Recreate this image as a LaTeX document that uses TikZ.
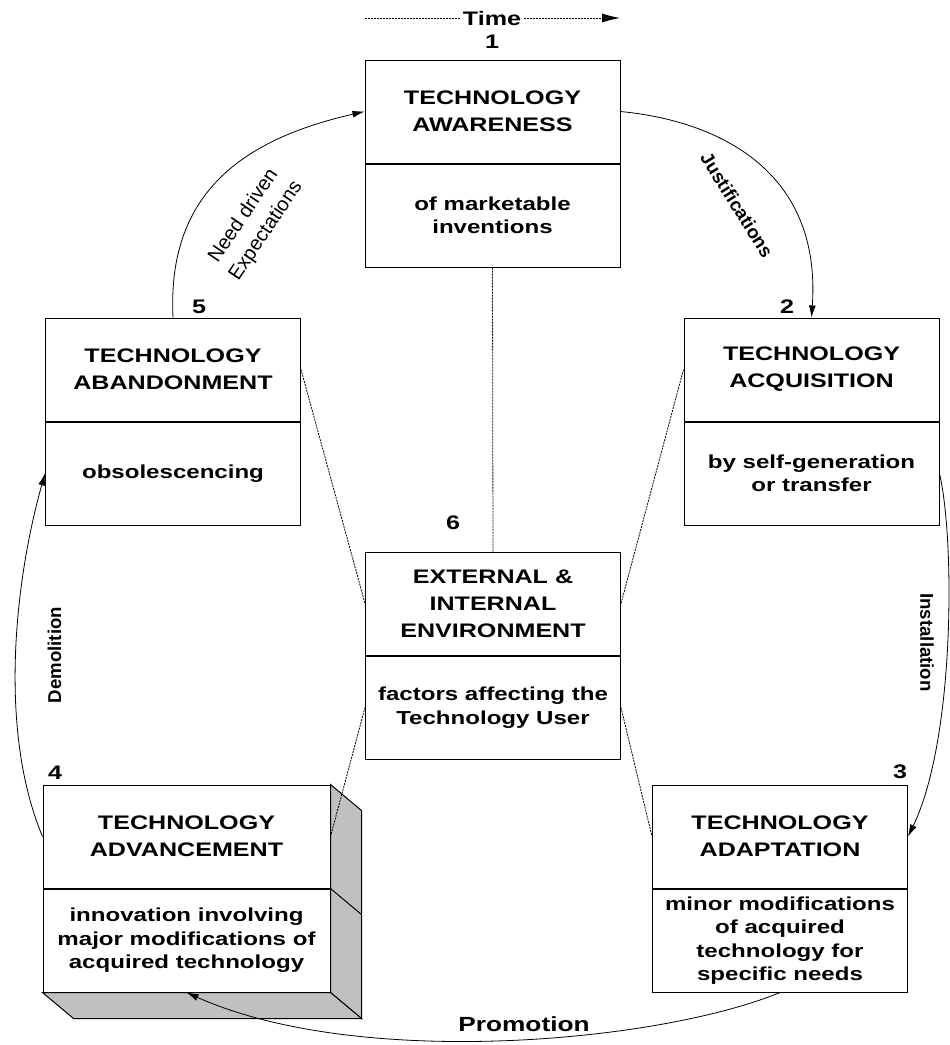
\documentclass[tikz,border=0pt]{standalone}
\usepackage{fontspec}
\setmainfont{Liberation Sans}
\newfontfamily\boxfont[FakeStretch=1.28]{Liberation Sans}
\usepackage{tikz}
\usetikzlibrary{arrows.meta,positioning}
\definecolor{sidegray}{RGB}{192,192,192}
\tikzset{
 >={Latex[length=12pt,width=7pt]},
 every node/.style={inner sep=0pt},
 head/.style={draw,line width=1pt,minimum width=255pt,minimum height=103pt,align=center,
  font=\boxfont\bfseries\fontsize{19.6}{27}\selectfont},
 body/.style={head,font=\boxfont\bfseries\fontsize{18.8}{23.5}\selectfont},
 num/.style={font=\boxfont\bfseries\fontsize{19.6}{24}\selectfont},
 lbl/.style={font=\bfseries\fontsize{18.6}{26}\selectfont},
 link/.style={line width=0.8pt,dash pattern=on 2pt off 1pt},
 flow/.style={->,line width=0.8pt}
}

\begin{document}
\begin{tikzpicture}[x=1pt,y=-1pt]
\useasboundingbox (0,0) rectangle (950,1045);

\path (492.5,111.5) node[head,name=t1] {TECHNOLOGY\\AWARENESS};
\path node[body,below=0pt of t1,name=d1] {of marketable\\inventions};
\path (811.5,369.5) node[head,name=t2] {TECHNOLOGY\\ACQUISITION};
\path node[body,below=0pt of t2,name=d2] {by self-generation\\or transfer};
\path (173,369.5) node[head,name=t5] {TECHNOLOGY\\ABANDONMENT};
\path node[body,below=0pt of t5,name=d5] {obsolescencing};
\path (493,603.5) node[head,name=t6] {EXTERNAL \&\\INTERNAL\\ENVIRONMENT};
\path node[body,below=0pt of t6,name=d6] {factors affecting the\\Technology User};
\path (780,836.5) node[head,name=t3] {TECHNOLOGY\\ADAPTATION};
\path node[body,below=0pt of t3,name=d3] {minor modifications\\of acquired\\technology for\\specific needs};
\path (186.5,836.5) node[head,minimum width=287pt,name=t4] {TECHNOLOGY\\ADVANCEMENT};
\path node[body,minimum width=287pt,below=0pt of t4,name=d4] {innovation involving\\major modifications of\\acquired technology};

\draw[line width=1pt,fill=sidegray] (t4.north east) -- ++(31,26) -- ([shift={(31,26)}]d4.south east) -- (d4.south east) -- cycle;
\draw[line width=1pt,fill=sidegray] (d4.south west) -- (d4.south east) -- ++(31,26) -- ([shift={(31,26)}]d4.south west) -- cycle;
\draw[line width=1pt] (t4.south east) -- ++(31,26);

\path (492,42) node[num,name=n1] {1};
\path (787,307) node[num,name=n2] {2};
\path (900,772) node[num,name=n3] {3};
\path (55,773) node[num,name=n4] {4};
\path (199,307) node[num,name=n5] {5};
\path (453,523) node[num,name=n6] {6};

\path (492,18) node[num,inner xsep=3pt,name=time] {Time};
\coordinate (time0) at (365,18);
\coordinate (time1) at (620,18);
\draw[link] (time0) -- (time.west);
\draw[link,-{Latex[length=18pt,width=9pt]}] (time.east) -- (time1);

\draw[link] (d1.south) -- (t6.north);
\draw[link] (t5.east) -- (t6.west);
\draw[link] (t2.west) -- (t6.east);
\draw[link] (d6.west) -- (t4.east);
\draw[link] (d6.east) -- (t3.west);

\draw[flow] (t5.north) .. controls (167,195) and (240,140) .. (t1.west);
\draw[flow] (t1.east) .. controls (710,120) and (822,165) .. (t2.north);
\draw[flow] (d2.east) .. controls (955,540) and (955,740) .. (t3.east);
\draw[flow] (d3.south) .. controls (660,1042) and (360,1070) .. (d4.south);
\draw[flow] (t4.west) .. controls (-2,730) and (15,580) .. (d5.west);

\path (255,223.5) node[align=center,rotate=56,font=\fontsize{20}{27}\selectfont,name=needlbl] {Need driven\\Expectations};
\path (737,205) node[lbl,rotate=-58,name=justlbl] {Justifications};
\path (927,642.5) node[lbl,rotate=-90,name=instlbl] {Installation};
\path (54.5,655) node[lbl,rotate=90,name=demlbl] {Demolition};
\path (524,1024) node[num,font=\boxfont\bfseries\fontsize{20.5}{24}\selectfont,name=promlbl] {Promotion};

\end{tikzpicture}
\end{document}
